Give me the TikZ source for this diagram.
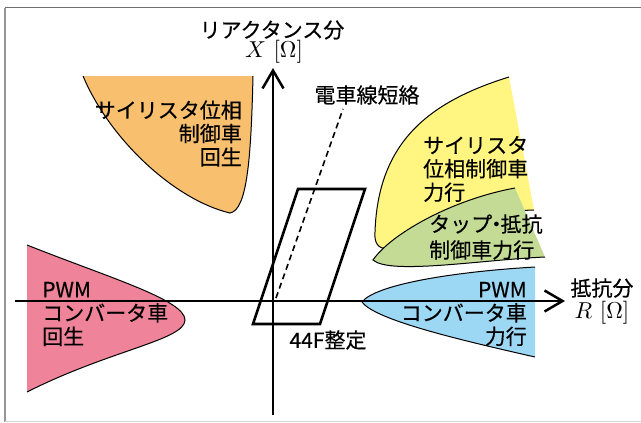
\documentclass[tikz,border=0pt]{standalone}
\usepackage{fontspec}
\newfontfamily\jp[FakeBold=0.35]{Noto Sans CJK JP}
\usetikzlibrary{arrows.meta}
\definecolor{orfill}{RGB}{247,191,110}
\definecolor{yefill}{RGB}{255,245,128}
\definecolor{grfill}{RGB}{196,219,150}
\definecolor{blfill}{RGB}{156,215,244}
\definecolor{pkfill}{RGB}{238,131,153}
\definecolor{frametop}{RGB}{110,110,110}
\definecolor{frameleft}{RGB}{150,150,150}
\definecolor{framebot}{RGB}{215,215,215}
\tikzset{
  lbl/.style={font=\jp\fontsize{21}{23.5}\selectfont, inner sep=0pt},
  mathlbl/.style={font=\normalsize, inner sep=0pt},
  axisline/.style={line width=2.5pt, -{Straight Barb[length=18pt,width=21pt]}},
  rim/.style={line width=1pt},
  boxline/.style={line width=2.6pt, line join=miter},
  shortline/.style={line width=1.6pt, dash pattern=on 6pt off 4pt},
}
\begin{document}
\begin{tikzpicture}[x=1pt,y=-1pt]
\useasboundingbox (0,0) rectangle (641,423);
% frame
\draw[frametop, line width=1.5pt] (5,7.5) -- (641,7.5);
\draw[frameleft, line width=1.5pt] (5,7.5) -- (5,422);
\draw[framebot, line width=1.2pt] (5,421.5) -- (641,421.5);

% orange region
\fill[orfill] (83,76) .. controls (110,140) and (175,200) .. (230,213)
  .. controls (247,210) and (251,160) .. (253,76) -- cycle;
\draw[rim] (83,76) .. controls (110,140) and (175,200) .. (230,213)
  .. controls (247,210) and (251,160) .. (253,76);

% pink region
\fill[pkfill] (27,245) .. controls (110,278) and (185,300) .. (185,320)
  .. controls (185,340) and (110,350) .. (27,392) -- cycle;
\draw[rim] (27,245) .. controls (110,278) and (185,300) .. (185,320)
  .. controls (185,340) and (110,350) .. (27,392);

% yellow region
\fill[yefill] (509,77) -- (534,210) .. controls (470,212) and (405,228) .. (388,248)
  .. controls (378,250) and (374,242) .. (375,232)
  .. controls (378,145) and (425,103) .. (509,77) -- cycle;
\draw[rim] (534,210) .. controls (470,212) and (405,228) .. (388,248)
  .. controls (378,250) and (374,242) .. (375,232)
  .. controls (378,145) and (425,103) .. (509,77);

% green region
\fill[grfill] (373,260) .. controls (390,235) and (450,200) .. (515,188)
  -- (545,257) .. controls (480,260) and (390,275) .. (373,260) -- cycle;
\draw[rim] (515,188) .. controls (450,200) and (390,235) .. (373,260)
  .. controls (390,275) and (480,260) .. (545,257);

% blue region
\fill[blfill] (535,267) .. controls (450,272) and (375,285) .. (362,302)
  .. controls (375,320) and (460,340) .. (535,357) -- cycle;
\draw[rim] (535,267) .. controls (450,272) and (375,285) .. (362,302)
  .. controls (375,320) and (460,340) .. (535,357);

% axes
\coordinate (xs) at (15,301);
\coordinate (xe) at (565,301);
\coordinate (ys) at (273,415);
\coordinate (ye) at (273,68);
\draw[axisline] (xs) -- (xe);
\draw[axisline] (ys) -- (ye);

% 44F setting parallelogram
\draw[boxline] (298,189) -- (365,189) -- (320,324) -- (253,324) -- cycle;

% short-circuit line
\node[lbl] (sc) at (367,95) {電車線短絡};
\coordinate (scs) at (276,298);
\coordinate (sce) at (343,109);
\draw[shortline] (scs) -- (sce);

% labels
\node[lbl] (ylab1) at (272,30) {リアクタンス分};
\node[mathlbl] (ylab2) at (274,52) {\scalebox{2.3}{$X\ [\Omega]$}};
\node[lbl] (xlab1) at (602,288) {抵抗分};
\node[mathlbl] (xlab2) at (602,313) {\scalebox{2.3}{$R\ [\Omega]$}};
\node[lbl] (f44) at (328,340) {44F整定};

\node[lbl, align=right, anchor=east] (orl) at (242,133.5) {サイリスタ位相\\制御車\\回生};
\node[lbl, align=left, anchor=west] (yel) at (423,169) {サイリスタ\\位相制御車\\力行};
\node[lbl, align=left, anchor=west, font=\jp\fontsize{21}{26}\selectfont] (grl) at (429,237) {タップ\hspace{-0.3em}・\hspace{-0.3em}抵抗\\制御車力行};
\node[lbl, align=left, anchor=west] (pkl) at (42,314) {PWM\\コンバータ車\\回生};
\node[lbl, align=right, anchor=east] (bll) at (527,314) {PWM\\コンバータ車\\力行};
\end{tikzpicture}
\end{document}
